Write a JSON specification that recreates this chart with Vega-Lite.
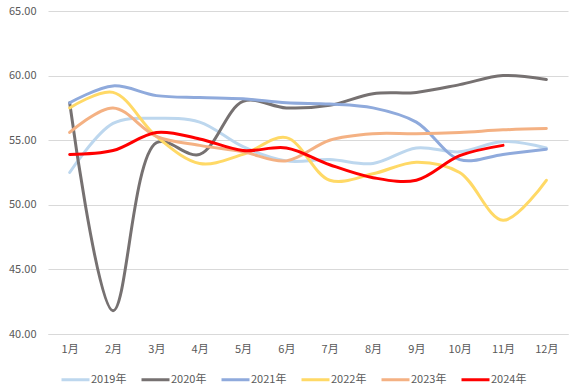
{
  "$schema": "https://vega.github.io/schema/vega-lite/v6.json",
  "width": 520,
  "height": 323,
  "autosize": {"type": "none"},
  "padding": {"left": 48, "top": 11, "right": 4, "bottom": 54},
  "background": "white",
  "config": {
    "view": {"stroke": null},
    "font": "Noto Sans CJK SC",
    "axis": {"labelFont": "Noto Sans CJK SC", "labelColor": "#595959", "labelFontSize": 11}
  },
  "data": {
    "values": [
      {"m": "1月", "y": "2019年", "v": 52.5}, {"m": "2月", "y": "2019年", "v": 56.3}, {"m": "3月", "y": "2019年", "v": 56.7}, {"m": "4月", "y": "2019年", "v": 56.4}, {"m": "5月", "y": "2019年", "v": 54.5}, {"m": "6月", "y": "2019年", "v": 53.4}, {"m": "7月", "y": "2019年", "v": 53.5}, {"m": "8月", "y": "2019年", "v": 53.2}, {"m": "9月", "y": "2019年", "v": 54.4}, {"m": "10月", "y": "2019年", "v": 54.1}, {"m": "11月", "y": "2019年", "v": 54.9}, {"m": "12月", "y": "2019年", "v": 54.4},
      {"m": "1月", "y": "2020年", "v": 57.9}, {"m": "2月", "y": "2020年", "v": 41.8}, {"m": "3月", "y": "2020年", "v": 54.8}, {"m": "4月", "y": "2020年", "v": 53.9}, {"m": "5月", "y": "2020年", "v": 58.0}, {"m": "6月", "y": "2020年", "v": 57.5}, {"m": "7月", "y": "2020年", "v": 57.7}, {"m": "8月", "y": "2020年", "v": 58.6}, {"m": "9月", "y": "2020年", "v": 58.7}, {"m": "10月", "y": "2020年", "v": 59.3}, {"m": "11月", "y": "2020年", "v": 60.0}, {"m": "12月", "y": "2020年", "v": 59.7},
      {"m": "1月", "y": "2021年", "v": 57.9}, {"m": "2月", "y": "2021年", "v": 59.2}, {"m": "3月", "y": "2021年", "v": 58.45}, {"m": "4月", "y": "2021年", "v": 58.3}, {"m": "5月", "y": "2021年", "v": 58.2}, {"m": "6月", "y": "2021年", "v": 57.9}, {"m": "7月", "y": "2021年", "v": 57.8}, {"m": "8月", "y": "2021年", "v": 57.5}, {"m": "9月", "y": "2021年", "v": 56.4}, {"m": "10月", "y": "2021年", "v": 53.5}, {"m": "11月", "y": "2021年", "v": 53.9}, {"m": "12月", "y": "2021年", "v": 54.3},
      {"m": "1月", "y": "2022年", "v": 57.5}, {"m": "2月", "y": "2022年", "v": 58.7}, {"m": "3月", "y": "2022年", "v": 55.3}, {"m": "4月", "y": "2022年", "v": 53.2}, {"m": "5月", "y": "2022年", "v": 53.9}, {"m": "6月", "y": "2022年", "v": 55.2}, {"m": "7月", "y": "2022年", "v": 51.9}, {"m": "8月", "y": "2022年", "v": 52.4}, {"m": "9月", "y": "2022年", "v": 53.3}, {"m": "10月", "y": "2022年", "v": 52.5}, {"m": "11月", "y": "2022年", "v": 48.8}, {"m": "12月", "y": "2022年", "v": 51.9},
      {"m": "1月", "y": "2023年", "v": 55.6}, {"m": "2月", "y": "2023年", "v": 57.5}, {"m": "3月", "y": "2023年", "v": 55.3}, {"m": "4月", "y": "2023年", "v": 54.6}, {"m": "5月", "y": "2023年", "v": 54.1}, {"m": "6月", "y": "2023年", "v": 53.4}, {"m": "7月", "y": "2023年", "v": 55.0}, {"m": "8月", "y": "2023年", "v": 55.5}, {"m": "9月", "y": "2023年", "v": 55.5}, {"m": "10月", "y": "2023年", "v": 55.6}, {"m": "11月", "y": "2023年", "v": 55.8}, {"m": "12月", "y": "2023年", "v": 55.9},
      {"m": "1月", "y": "2024年", "v": 53.9}, {"m": "2月", "y": "2024年", "v": 54.2}, {"m": "3月", "y": "2024年", "v": 55.6}, {"m": "4月", "y": "2024年", "v": 55.1}, {"m": "5月", "y": "2024年", "v": 54.2}, {"m": "6月", "y": "2024年", "v": 54.4}, {"m": "7月", "y": "2024年", "v": 53.1}, {"m": "8月", "y": "2024年", "v": 52.1}, {"m": "9月", "y": "2024年", "v": 51.9}, {"m": "10月", "y": "2024年", "v": 53.8}, {"m": "11月", "y": "2024年", "v": 54.6}
    ]
  },
  "mark": {"type": "line", "interpolate": "catmull-rom", "strokeWidth": 3, "strokeCap": "round", "strokeJoin": "round"},
  "encoding": {
    "x": {
      "field": "m", "type": "ordinal",
      "sort": ["1月", "2月", "3月", "4月", "5月", "6月", "7月", "8月", "9月", "10月", "11月", "12月"],
      "scale": {"type": "point", "padding": 0.5},
      "axis": {"title": null, "labelAngle": 0, "ticks": false, "domainColor": "#D9D9D9", "labelPadding": 9, "grid": false}
    },
    "y": {
      "field": "v", "type": "quantitative",
      "scale": {"domain": [40, 65], "nice": false, "zero": false},
      "axis": {"title": null, "values": [40, 45, 50, 55, 60, 65], "format": ".2f", "domain": false, "ticks": false, "gridColor": "#D9D9D9", "labelPadding": 12}
    },
    "color": {
      "field": "y", "type": "nominal",
      "scale": {"domain": ["2019年", "2020年", "2021年", "2022年", "2023年", "2024年"], "range": ["#BDD7EE", "#767171", "#8FAADC", "#FFD966", "#F4B183", "#FF0000"]},
      "legend": {
        "title": null, "orient": "none", "legendX": 12, "legendY": 353, "direction": "horizontal",
        "columns": 6, "symbolType": "stroke", "symbolSize": 784, "symbolStrokeWidth": 3,
        "labelFont": "Noto Sans CJK SC", "labelFontSize": 11, "labelColor": "#595959",
        "labelOffset": 0, "columnPadding": 8
      }
    }
  }
}
